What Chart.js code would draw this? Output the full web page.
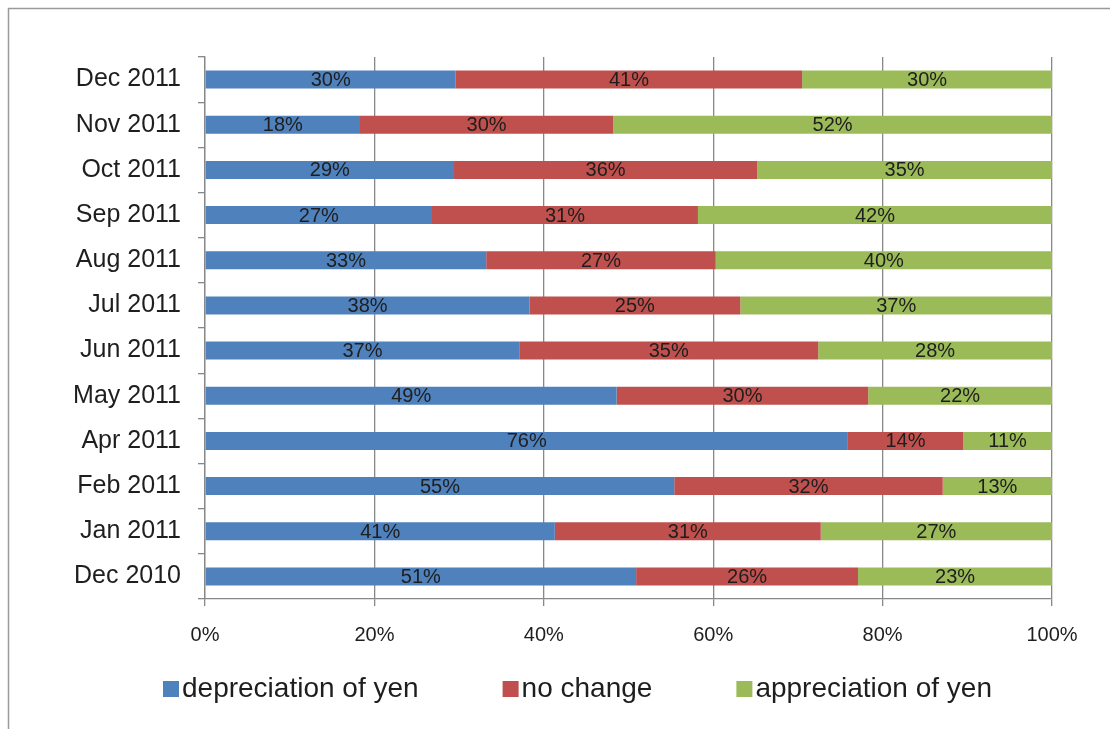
<!DOCTYPE html>
<html>
<head>
<meta charset="utf-8">
<script src="https://cdn.jsdelivr.net/npm/chart.js@4.4.0/dist/chart.umd.min.js"></script>
<style>
  body { margin: 0; background: #fff; }
  canvas { display: block; }
</style>
</head>
<body>
<canvas id="yenChart" width="1110" height="729"></canvas>
<script>
// survey months, top to bottom
const months = [
  "Dec 2011", "Nov 2011", "Oct 2011", "Sep 2011", "Aug 2011", "Jul 2011",
  "Jun 2011", "May 2011", "Apr 2011", "Feb 2011", "Jan 2011", "Dec 2010"
];

const seriesNames = ["depreciation of yen", "no change", "appreciation of yen"];

// shares in percent
const depreciation = [29.6, 18.3, 29.4, 26.8, 33.2, 38.3, 37.1, 48.6, 75.9, 55.4, 41.3, 50.9];
const noChange     = [40.9, 29.9, 35.8, 31.4, 27.1, 24.9, 35.3, 29.7, 13.6, 31.7, 31.4, 26.2];
const appreciation = [29.5, 51.8, 34.8, 41.8, 39.7, 36.8, 27.6, 21.7, 10.5, 12.9, 27.3, 22.9];

const xTicks = [0, 20, 40, 60, 80, 100];

const seriesColors = ["#4F81BD", "#C0504D", "#9BBB59"];
const FONT = "'Liberation Sans', Arial, sans-serif";
const GRID = "#888888";

// numbers inside each segment
const segmentLabels = {
  id: "segmentLabels",
  afterDatasetsDraw(chart) {
    const ctx = chart.ctx;
    ctx.save();
    ctx.font = "20px " + FONT;
    ctx.fillStyle = "#1e1e1e";
    ctx.textAlign = "center";
    ctx.textBaseline = "middle";
    chart.data.datasets.forEach((ds, i) => {
      const meta = chart.getDatasetMeta(i);
      meta.data.forEach((bar, j) => {
        const cx = (bar.x + bar.base) / 2;
        ctx.fillText(Math.round(ds.data[j]) + "%", cx, bar.y + 1);
      });
    });
    ctx.restore();
  }
};

// outer frame + legend at the bottom
const frameAndLegend = {
  id: "frameAndLegend",
  beforeDraw(chart) {
    const ctx = chart.ctx;
    ctx.save();
    ctx.fillStyle = "#fff";
    ctx.fillRect(0, 0, chart.width, chart.height);
    ctx.strokeStyle = "#9a9a9a";
    ctx.lineWidth = 1.5;
    ctx.strokeRect(8.5, 8.5, 1300, 900);
    ctx.restore();
  },
  afterDraw(chart) {
    const ctx = chart.ctx;
    ctx.save();
    ctx.font = "28px " + FONT;
    ctx.textBaseline = "middle";
    ctx.textAlign = "left";
    let x = 163;
    const y = 689;
    chart.data.datasets.forEach((ds) => {
      ctx.fillStyle = ds.backgroundColor;
      ctx.fillRect(x, y - 8, 16, 16);
      ctx.fillStyle = "#1e1e1e";
      ctx.fillText(ds.label, x + 19, y);
      x += 19 + ctx.measureText(ds.label).width + 84;
    });
    ctx.restore();
  }
};

new Chart(document.getElementById("yenChart"), {
  type: "bar",
  data: {
    labels: months,
    datasets: [
      { label: seriesNames[0], data: depreciation, backgroundColor: seriesColors[0] },
      { label: seriesNames[1], data: noChange, backgroundColor: seriesColors[1] },
      { label: seriesNames[2], data: appreciation, backgroundColor: seriesColors[2] }
    ]
  },
  options: {
    indexAxis: "y",
    responsive: false,
    animation: false,
    layout: { padding: { top: 57, right: 58, left: 0, bottom: 0 } },
    datasets: {
      bar: { barPercentage: 0.4, categoryPercentage: 1.0 }
    },
    plugins: {
      legend: { display: false },
      tooltip: { enabled: false }
    },
    scales: {
      x: {
        stacked: true,
        min: 0,
        max: 100,
        afterBuildTicks(scale) {
          scale.ticks = xTicks.map((v) => ({ value: v }));
        },
        afterFit(scale) { scale.height = 130; },
        ticks: {
          callback: (v) => v + "%",
          color: "#1e1e1e",
          font: { family: FONT, size: 20 },
          padding: 17,
          maxRotation: 0
        },
        grid: { color: GRID, tickLength: 7, lineWidth: 1.3 },
        border: { display: true, color: GRID, width: 1.3 }
      },
      y: {
        stacked: true,
        afterFit(scale) { scale.width = 205; },
        ticks: {
          color: "#1e1e1e",
          font: { family: FONT, size: 25 },
          padding: 17
        },
        grid: { drawOnChartArea: false, color: GRID, tickLength: 7, offset: true, lineWidth: 1.3 },
        border: { display: true, color: GRID, width: 1.3 }
      }
    }
  },
  plugins: [segmentLabels, frameAndLegend]
});
</script>
</body>
</html>
